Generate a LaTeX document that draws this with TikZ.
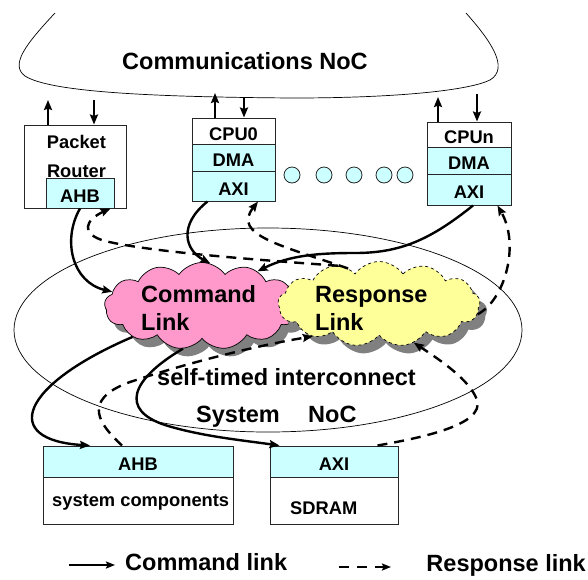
\documentclass[tikz,border=0pt]{standalone}
\usepackage{fontspec}
\setmainfont{Liberation Sans}
\usetikzlibrary{shapes.geometric,shapes.symbols,shadows,arrows.meta,calc}
\definecolor{cellcyan}{HTML}{CCFFFF}
\definecolor{cmdpink}{HTML}{FF99CC}
\definecolor{respyellow}{HTML}{FFFF99}
\begin{document}
\begin{tikzpicture}[x=1pt,y=-1pt,
  bigtext/.style={font=\fontsize{23.5}{28}\selectfont\bfseries, inner sep=0pt},
  boxtext/.style={font=\fontsize{18.3}{22}\selectfont\bfseries, inner sep=0pt},
  box/.style={draw=black!85, line width=1pt, inner sep=0pt},
  cell/.style={box, minimum width=#1, font=\fontsize{18.3}{22}\selectfont\bfseries,
    text height=18pt, text depth=0pt},
  dot/.style={circle, draw=black!85, line width=0.8pt, fill=cellcyan, minimum size=16pt, inner sep=0pt},
  cloudbox/.style={cloud, cloud puffs=13, cloud puff arc=110, inner sep=0pt, draw, line width=0.7pt,
    drop shadow={shadow xshift=7pt, shadow yshift=-8pt, fill=black!50, opacity=1}},
  tip/.style={-{Stealth[length=10pt,width=8pt,inset=1.5pt]}},
  cmdarrow/.style={line width=2.4pt, tip},
  resparrow/.style={line width=2.4pt, dash pattern=on 10pt off 7pt, tip},
  thinline/.style={line width=0.7pt}]
\useasboundingbox (0,0) rectangle (588,579);

% System NoC outline
\node[draw, ellipse, thinline, minimum width=508pt, minimum height=204pt, inner sep=0pt] (sysnoc) at (268,330) {};

% Communications NoC outline
\draw[thinline] (55,13) .. controls (25,45) and (10,65) .. (25,76)
  .. controls (50,92) and (150,97) .. (293,98)
  .. controls (400,98) and (470,90) .. (490,80)
  .. controls (510,68) and (490,40) .. (466,13);
\node[bigtext, anchor=base west] (commtext) at (122,69) {Communications NoC};

% Packet router
\node[box, minimum width=102pt, minimum height=83pt] (pr) at (75,166.5) {};
\node[cell=68pt, fill=cellcyan, minimum height=30pt] (prahb) at (80,193) {AHB};
\node[boxtext, anchor=base] (prname1) at (76.5,148) {Packet};
\node[boxtext, anchor=base] (prname2) at (76.5,177) {Router};

% CPU0
\node[cell=83pt, minimum height=26pt] (cpu0) at (233.5,131) {CPU0};
\node[cell=83pt, minimum height=27pt, fill=cellcyan] (dma0) at (233.5,157.5) {DMA};
\node[cell=83pt, minimum height=30pt, fill=cellcyan] (axi0) at (233.5,186) {AXI};

% CPUn
\node[cell=84pt, minimum height=25pt] (cpun) at (469,134.5) {CPUn};
\node[cell=84pt, minimum height=27pt, fill=cellcyan] (dman) at (469,160.5) {DMA};
\node[cell=84pt, minimum height=31pt, fill=cellcyan] (axin) at (469,189.5) {AXI};

% further processors
\foreach \x [count=\i] in {292,324,354,384,405}
  \node[dot] (dot\i) at (\x,175) {};

% system components and SDRAM
\node[cell=190pt, minimum height=31pt, fill=cellcyan] (sysahb) at (138,461.5) {AHB};
\node[box, minimum width=190pt, minimum height=47pt] (syscomp) at (138,500.5) {};
\node[boxtext, anchor=base west] (syscomptext) at (52,506) {system components};
\node[cell=128pt, minimum height=31pt, fill=cellcyan] (sdaxi) at (334,461.5) {AXI};
\node[box, minimum width=128pt, minimum height=47pt] (sdram) at (334,500.5) {};
\node[boxtext, anchor=base west] (sdramtext) at (290,514) {SDRAM};

% links
\node[cloudbox, fill=cmdpink, minimum width=195pt, minimum height=87pt] (cmd) at (202,306) {};
\node[cloudbox, fill=respyellow, dashed, minimum width=202pt, minimum height=85pt] (resp) at (379,304) {};
\node[bigtext, anchor=base west] (cmdA) at (141,302) {Command};
\node[bigtext, anchor=base west] (cmdB) at (141,330) {Link};
\node[bigtext, anchor=base west] (respA) at (315,302) {Response};
\node[bigtext, anchor=base west] (respB) at (315,330) {Link};
\node[bigtext, anchor=base west] (stl) at (157,385) {self-timed interconnect};
\node[bigtext, anchor=base west] (sysnoctext) at (196,422) {System\hspace{28.4pt}NoC};

% connections to the communications NoC
\coordinate (prup) at (48,100);  \coordinate (prdn) at (94,100);
\coordinate (c0up) at (215,93);  \coordinate (c0dn) at (244,97);
\coordinate (cnup) at (438,97);  \coordinate (cndn) at (477,94);
\draw[cmdarrow] (pr.north -| prup) -- (prup);
\draw[cmdarrow] (prdn) -- (pr.north -| prdn);
\draw[cmdarrow] (cpu0.north -| c0up) -- (c0up);
\draw[cmdarrow] (c0dn) -- (cpu0.north -| c0dn);
\draw[cmdarrow] (cpun.north -| cnup) -- (cnup);
\draw[cmdarrow] (cndn) -- (cpun.north -| cndn);

% command paths
\draw[cmdarrow] (prahb.south) .. controls (62,240) and (72,282) .. (cmd.171);
\draw[cmdarrow] ([xshift=-26pt]axi0.south) .. controls (178,225) and (185,250) .. (cmd.79);
\draw[cmdarrow] ([xshift=4pt]axin.south) .. controls (430,240) and (400,253) .. (355,253)
  .. controls (320,253) and (290,255) .. (cmd.32);
\draw[cmdarrow] (cmd.204) .. controls (20,385) and (0,440) .. ([xshift=-48pt]sysahb.north);
\draw[cmdarrow] (cmd.246) .. controls (130,380) and (120,410) .. (165,425)
  .. controls (200,436) and (240,440) .. ([xshift=10pt]sdaxi.north west);

% response paths
\draw[resparrow] (resp.137) .. controls (260,260) and (150,252) .. (105,241)
  .. controls (80,234) and (85,220) .. ([xshift=-4pt]prahb.south east);
\draw[resparrow] (resp.131) .. controls (280,245) and (232,235) .. ([xshift=24.5pt]axi0.south);
\draw[resparrow] (resp.354) .. controls (505,300) and (520,245) .. ([xshift=-14pt]axin.south east);
\draw[resparrow] ([xshift=-21pt]sdaxi.north east) .. controls (420,438) and (485,425) .. (477,400)
  .. controls (470,380) and (440,360) .. (resp.312);
\draw[resparrow] ([xshift=-16pt]sysahb.north) .. controls (100,425) and (80,400) .. (130,382)
  .. controls (190,362) and (260,345) .. (resp.206);

% legend
\coordinate (legcmdA) at (69,565);  \coordinate (legcmdB) at (115,565);
\coordinate (legrespA) at (339,567); \coordinate (legrespB) at (391,567);
\draw[line width=2.2pt, -{Stealth[length=9pt,width=7pt,inset=1.5pt]}] (legcmdA) -- (legcmdB);
\draw[line width=2.2pt, dash pattern=on 10pt off 8pt, -{Stealth[length=9pt,width=7pt,inset=1.5pt]}] (legrespA) -- (legrespB);
\node[bigtext, anchor=base west] (legcmd) at (125,570) {Command link};
\node[bigtext, anchor=base east] (legresp) at (586,571) {Response link};
\end{tikzpicture}
\end{document}
